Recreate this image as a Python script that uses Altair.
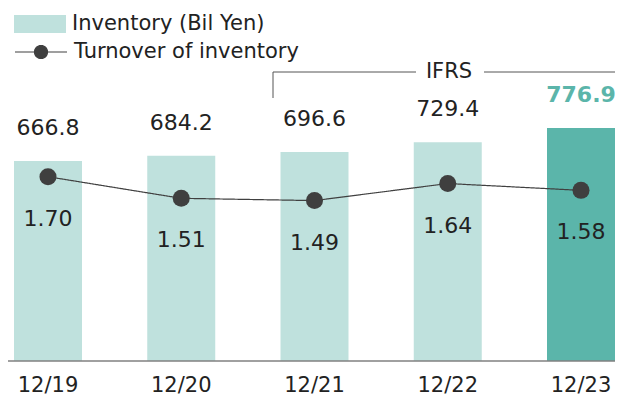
import altair as alt
import pandas as pd

years = ["12/19", "12/20", "12/21", "12/22", "12/23"]
inventory = [666.8, 684.2, 696.6, 729.4, 776.9]
inventory_labels = ["666.8", "684.2", "696.6", "729.4", "776.9"]
turnover = [1.70, 1.51, 1.49, 1.64, 1.58]
turnover_labels = ["1.70", "1.51", "1.49", "1.64", "1.58"]
series_bar = "Inventory (Bil Yen)"
series_line = "Turnover of inventory"
bracket_label = "IFRS"

FONT = "DejaVu Sans"
LIGHT = "#bfe1dd"
DARK = "#5bb5aa"
TEXT = "#222222"
LINEC = "#404040"

df = pd.DataFrame({
    "year": years,
    "inventory": inventory,
    "inv_label": inventory_labels,
    "turnover": turnover,
    "turn_label": turnover_labels,
    "s1": series_bar,
    "s2": series_line,
})

W, H = 601, 353

base = alt.Chart(df)
x = alt.X("year:N", sort=years,
          scale=alt.Scale(paddingInner=0.4897, paddingOuter=0),
          axis=alt.Axis(title=None, labelAngle=0, labelFontSize=21, labelFont=FONT,
                        labelColor=TEXT, ticks=False, tickSize=0, labelPadding=13,
                        domain=False, grid=False))
y_inv = alt.Y("inventory:Q", scale=alt.Scale(domain=[0, 1176.7]), axis=None)
y_turn = alt.Y("turnover:Q", scale=alt.Scale(domain=[0.079, 3.184]), axis=None)

bars = base.mark_bar().encode(
    x=x, y=y_inv,
    color=alt.condition(
        alt.datum.year == "12/23", alt.value(DARK),
        alt.Color("s1:N", scale=alt.Scale(range=[LIGHT]),
                  legend=alt.Legend(title=None, orient="none", legendX=0, legendY=-10,
                                    symbolType="M-1,-0.346L1,-0.346L1,0.346L-1,0.346Z",
                                    symbolSize=2704, symbolStrokeWidth=0,
                                    labelFontSize=21, labelFont=FONT, labelColor=TEXT,
                                    labelOffset=6, labelLimit=500))),
)

bar_text = base.mark_text(dy=-33, fontSize=22, font=FONT, color=TEXT).encode(
    x=x, y=y_inv, text="inv_label:N").transform_filter(alt.datum.year != "12/23")
bar_text_last = base.mark_text(dy=-33, fontSize=22, font=FONT, color=DARK,
                               fontWeight="bold").encode(
    x=x, y=y_inv, text="inv_label:N").transform_filter(alt.datum.year == "12/23")

line = base.mark_line(color=LINEC, strokeWidth=1.2).encode(
    x=x, y=y_turn,
    strokeDash=alt.StrokeDash("s2:N", scale=alt.Scale(range=[[1, 0]]),
                              legend=alt.Legend(title=None, orient="none", legendX=0, legendY=17,
                                                symbolType="M-1,0L1,0M0.25,0A0.25,0.25,0,1,1,-0.25,0A0.25,0.25,0,1,1,0.25,0Z",
                                                symbolSize=2704, symbolStrokeColor=LINEC,
                                                symbolFillColor="#3f3f3f", symbolStrokeWidth=1.2,
                                                labelFontSize=21, labelFont=FONT, labelColor=TEXT,
                                                labelOffset=6, labelLimit=500)),
)
points = base.mark_circle(size=290, color="#3f3f3f", opacity=1).encode(x=x, y=y_turn)
turn_text = base.mark_text(dy=42, fontSize=22, font=FONT, color=TEXT).encode(
    x=x, y=y_turn, text="turn_label:N")

one = alt.Chart(pd.DataFrame({"k": [0]}))
baseline = one.mark_rule(color="#808080", strokeWidth=1.5).encode(
    x=alt.value(-6), x2=alt.value(W), y=alt.value(H))
br_v = one.mark_rule(color="#555555", strokeWidth=1).encode(
    x=alt.value(259), y=alt.value(64), y2=alt.value(90))
br_h1 = one.mark_rule(color="#555555", strokeWidth=1).encode(
    x=alt.value(259), x2=alt.value(402), y=alt.value(64))
br_h2 = one.mark_rule(color="#555555", strokeWidth=1).encode(
    x=alt.value(470), x2=alt.value(W), y=alt.value(64))
br_t = one.mark_text(fontSize=21, font=FONT, color=TEXT, baseline="middle").encode(
    x=alt.value(435), y=alt.value(64), text=alt.value(bracket_label))

chart = alt.layer(
    bars, bar_text, bar_text_last, line, points, turn_text,
    baseline, br_v, br_h1, br_h2, br_t
).resolve_scale(y="independent", color="independent", strokeDash="independent").properties(
    width=W, height=H,
    autosize=alt.AutoSizeParams(type="none"),
    padding={"left": 6, "top": 0, "right": 0, "bottom": 36},
).configure_view(stroke=None)

chart.save("out.html", embed_options={"renderer": "svg", "actions": False})
